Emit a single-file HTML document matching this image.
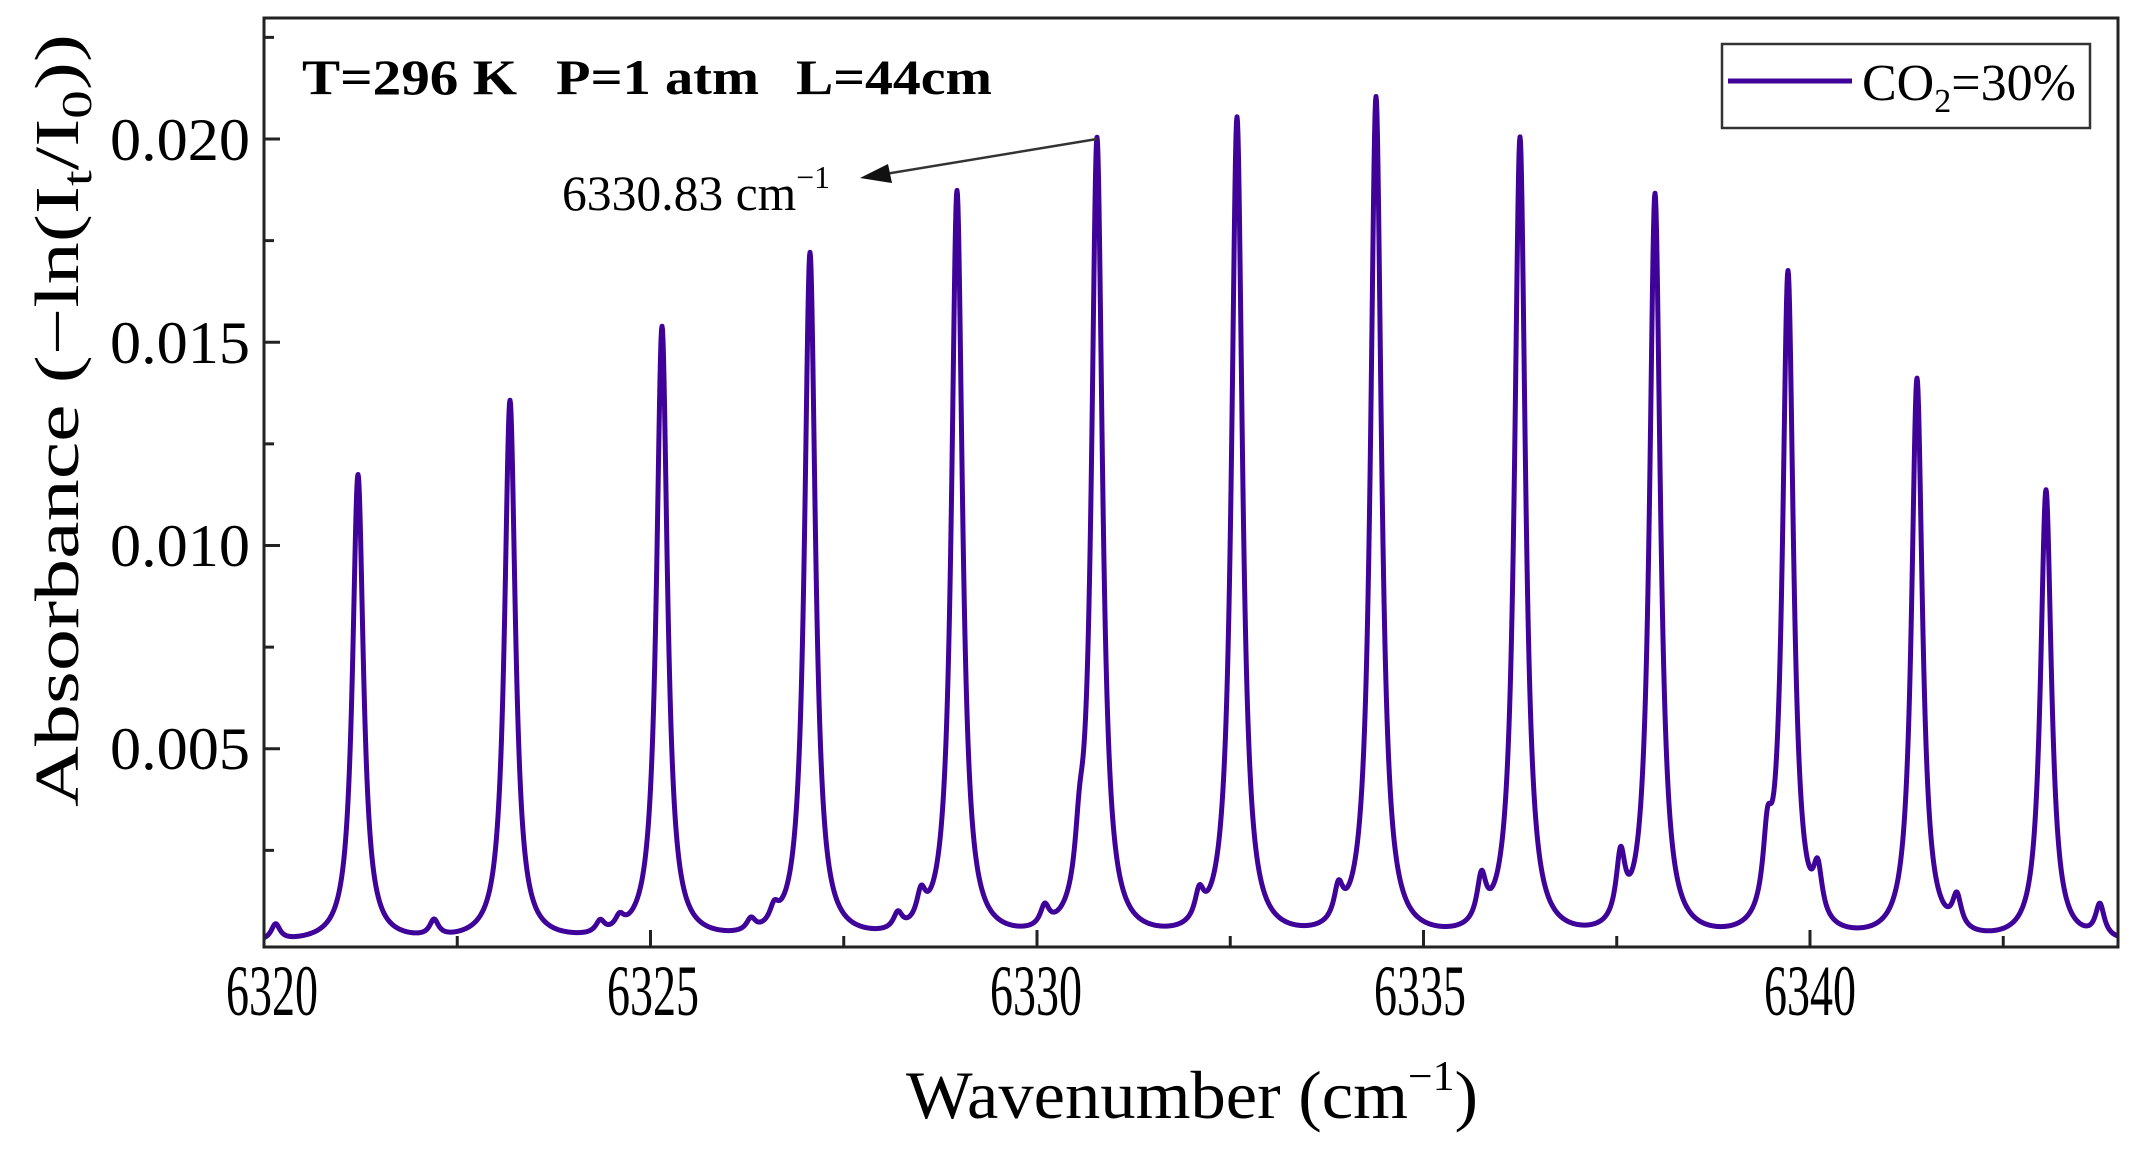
<!DOCTYPE html>
<html><head><meta charset="utf-8"><style>
html,body{margin:0;padding:0;background:#fff;}
svg{display:block;}
text{font-family:"Liberation Serif",serif;fill:#000;}
</style></head><body>
<svg id="s" width="2135" height="1149" viewBox="0 0 2135 1149" xmlns="http://www.w3.org/2000/svg">
<rect width="2135" height="1149" fill="#fff"/>
<path id="curve" fill="none" stroke="#3f0399" stroke-width="5" stroke-linejoin="round" d=""/>
<rect x="264" y="18" width="1854" height="929" fill="none" stroke="#222" stroke-width="3"/>
<g id="ticks" stroke="#222" stroke-width="3"></g>
<g font-size="60" text-anchor="end">
<text x="250" y="160" textLength="140" lengthAdjust="spacingAndGlyphs">0.020</text>
<text x="250" y="363" textLength="140" lengthAdjust="spacingAndGlyphs">0.015</text>
<text x="250" y="566" textLength="140" lengthAdjust="spacingAndGlyphs">0.010</text>
<text x="250" y="769" textLength="140" lengthAdjust="spacingAndGlyphs">0.005</text>
</g>
<g font-size="72">
<text x="226" y="1015" textLength="92" lengthAdjust="spacingAndGlyphs">6320</text>
<text x="607" y="1015" textLength="92" lengthAdjust="spacingAndGlyphs">6325</text>
<text x="990" y="1015" textLength="92" lengthAdjust="spacingAndGlyphs">6330</text>
<text x="1374" y="1015" textLength="92" lengthAdjust="spacingAndGlyphs">6335</text>
<text x="1764" y="1015" textLength="92" lengthAdjust="spacingAndGlyphs">6340</text>
</g>
<text x="906" y="1118" font-size="68" textLength="572" lengthAdjust="spacingAndGlyphs">Wavenumber (cm<tspan font-size="42" dy="-28">−1</tspan><tspan dy="28">)</tspan></text>
<text transform="translate(78,807) rotate(-90)" font-size="62" textLength="773" lengthAdjust="spacingAndGlyphs">Absorbance (−ln(I<tspan font-size="42" dy="13">t</tspan><tspan dy="-13">/I</tspan><tspan font-size="42" dy="13">0</tspan><tspan dy="-13">))</tspan></text>
<g font-size="50" font-weight="bold">
<text x="302" y="94" textLength="215" lengthAdjust="spacingAndGlyphs">T=296 K</text>
<text x="556" y="94" textLength="203" lengthAdjust="spacingAndGlyphs">P=1 atm</text>
<text x="796" y="94" textLength="196" lengthAdjust="spacingAndGlyphs">L=44cm</text>
</g>
<text x="562" y="210" font-size="50" textLength="268" lengthAdjust="spacingAndGlyphs">6330.83 cm<tspan font-size="32" dy="-22">−1</tspan></text>
<line x1="1097" y1="139" x2="885" y2="174" stroke="#333" stroke-width="2.5"/>
<polygon points="860,178 888,164 892,183" fill="#111"/>
<rect x="1722" y="44" width="368" height="84" fill="#fff" stroke="#333" stroke-width="2.5"/>
<line x1="1728" y1="81" x2="1852" y2="81" stroke="#3f0399" stroke-width="5"/>
<text x="1862" y="100" font-size="52">CO<tspan font-size="34" dy="12">2</tspan><tspan dy="-12">=30%</tspan></text>
</svg>
<script>
(function(){
var X0=264,S=77.3;
function xp(w){return X0+S*(w-6320);}
function wx(x){return 6320+(x-X0)/S;}
function yp(a){return 952-40650*a;}
var px=[358,510,662,810,957,1097,1237,1376,1520,1655,1788,1917,2046];
var h=[0.0119,0.0137,0.0155,0.0173,0.0188,0.0200,0.0206,0.0211,0.0201,0.0187,0.0167,0.0142,0.0115];
var P=[];for(var i=0;i<px.length;i++)P.push([wx(px[i]),h[i]-0.0004,0.085]);
var sat=[[6320.15,0.0004],[6322.2,0.0004],[6324.35,0.0003],[6324.6,0.0003],[6326.3,0.0003],[6326.6,0.0004],[6328.2,0.0004],[6328.5,0.0007],[6330.1,0.0005],[6330.55,0.0013],[6332.1,0.0007],[6333.9,0.0008],[6335.75,0.0011],[6337.55,0.0016],[6339.45,0.0017],[6340.1,0.0012],[6341.9,0.0008],[6343.75,0.0008]];
for(var j=0;j<sat.length;j++)P.push([sat[j][0],sat[j][1],0.07]);
var d="";
for(var x=264;x<=2118;x+=0.5){var w=wx(x),a=0.0002;
for(var k=0;k<P.length;k++){var g=P[k][2],dd=w-P[k][0];a+=P[k][1]*g*g/(dd*dd+g*g);}
var y=Math.min(yp(a),946);d+=(d?"L":"M")+x.toFixed(1)+","+y.toFixed(1);}
document.getElementById("curve").setAttribute("d",d);
var t="";
for(var w=6320;w<=6344;w+=2.5){var xx=xp(w);var L=(Math.abs(w%5)<0.01)?16:10;t+='<line x1="'+xx+'" y1="946" x2="'+xx+'" y2="'+(946-L)+'"/>';}
for(var a=0.0025;a<=0.0226;a+=0.0025){var yy=yp(a);var L2=(Math.round(a*10000)%50==0)?16:10;t+='<line x1="264" y1="'+yy+'" x2="'+(264+L2)+'" y2="'+yy+'"/>';}
document.getElementById("ticks").innerHTML=t;
})();
</script>
</body></html>
